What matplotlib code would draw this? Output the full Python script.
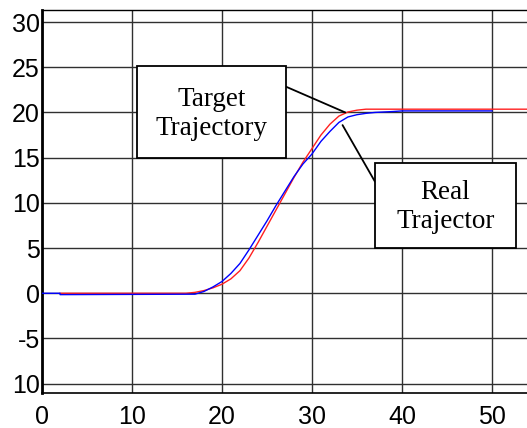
import matplotlib
matplotlib.use("Agg")
import matplotlib.pyplot as plt
from matplotlib.patches import Rectangle

# Data
target_x = [2, 16, 17, 18, 19, 20, 21, 22, 23, 24, 25, 26, 27, 28, 29, 30, 31, 32, 33, 34, 35, 36, 54]
target_y = [0, 0, 0.1, 0.3, 0.6, 1.0, 1.6, 2.5, 3.9, 5.6, 7.4, 9.2, 11.0, 12.8, 14.5, 16.0, 17.5, 18.7, 19.6, 20.05, 20.25, 20.36, 20.36]

real_x = [0, 2, 2.01, 17, 18, 19, 20, 21, 22, 23, 24, 25, 26, 27, 28, 29, 30, 31, 32, 33, 34, 35, 36, 37, 38, 39, 40, 50]
real_y = [0, 0, -0.15, -0.1, 0.2, 0.7, 1.3, 2.2, 3.3, 4.8, 6.4, 8.0, 9.7, 11.3, 12.9, 14.3, 15.4, 16.8, 17.9, 18.9, 19.5, 19.75, 19.9, 20.0, 20.05, 20.1, 20.17, 20.17]

xticks = [0, 10, 20, 30, 40, 50]
xtick_labels = ["0", "10", "20", "30", "40", "50"]
yticks = [-10, -5, 0, 5, 10, 15, 20, 25, 30]
ytick_labels = ["10", "-5", "0", "5", "10", "15", "20", "25", "30"]

W, H = 527, 428
fig = plt.figure(figsize=(W / 100, H / 100), dpi=100)
ax = fig.add_axes([42 / W, 1 - 393 / H, 1 - 42 / W, (393 - 10) / H])

ax.plot(target_x, target_y, color="#ff2020", lw=1.0, zorder=3)
ax.plot(real_x, real_y, color="#0000ff", lw=1.0, zorder=4)

ax.set_xlim(0, 53.9)
ax.set_ylim(-11.03, 31.33)
ax.set_xticks(xticks)
ax.set_xticklabels(xtick_labels)
ax.set_yticks(yticks)
ax.set_yticklabels(ytick_labels)
ax.grid(True, color="#303030", lw=1.0)
ax.set_axisbelow(True)
ax.tick_params(axis="both", length=0, labelsize=18)
ax.tick_params(axis="x", pad=8.5)
ax.tick_params(axis="y", pad=1.5)
for lab in ax.get_xticklabels() + ax.get_yticklabels():
    lab.set_fontfamily("Liberation Sans")
ax.spines["right"].set_visible(False)
ax.spines["left"].set_linewidth(2.0)
ax.spines["top"].set_linewidth(1.0)
ax.spines["bottom"].set_linewidth(1.2)
for s in ax.spines.values():
    s.set_color("black")


def fx(px):
    return px / W


def fy(py):
    return 1 - py / H


# Annotation boxes
boxes = [
    (137, 66, 286, 158, "Target\nTrajectory", (286, 86.7), (33.7, 20.0)),
    (375, 163, 516, 248, "Real\nTrajector", (375, 181.7), (33.4, 18.6)),
]
for x0, y0, x1, y1, txt, start, target in boxes:
    rect = Rectangle((fx(x0), fy(y1)), fx(x1) - fx(x0), fy(y0) - fy(y1),
                     transform=fig.transFigure, facecolor="white",
                     edgecolor="black", lw=1.3, zorder=10)
    fig.patches.append(rect)
    fig.text(fx((x0 + x1) / 2), fy((y0 + y1) / 2) - 0.004, txt, ha="center", va="center",
             fontsize=19.5, family="Liberation Serif", linespacing=1.2, zorder=11)
    ax.annotate("", xy=target, xycoords="data",
                xytext=(fx(start[0]), fy(start[1])), textcoords="figure fraction",
                arrowprops=dict(arrowstyle="-", color="black", lw=1.3,
                                shrinkA=0, shrinkB=0), zorder=9)

fig.savefig("out.png", dpi=100)
